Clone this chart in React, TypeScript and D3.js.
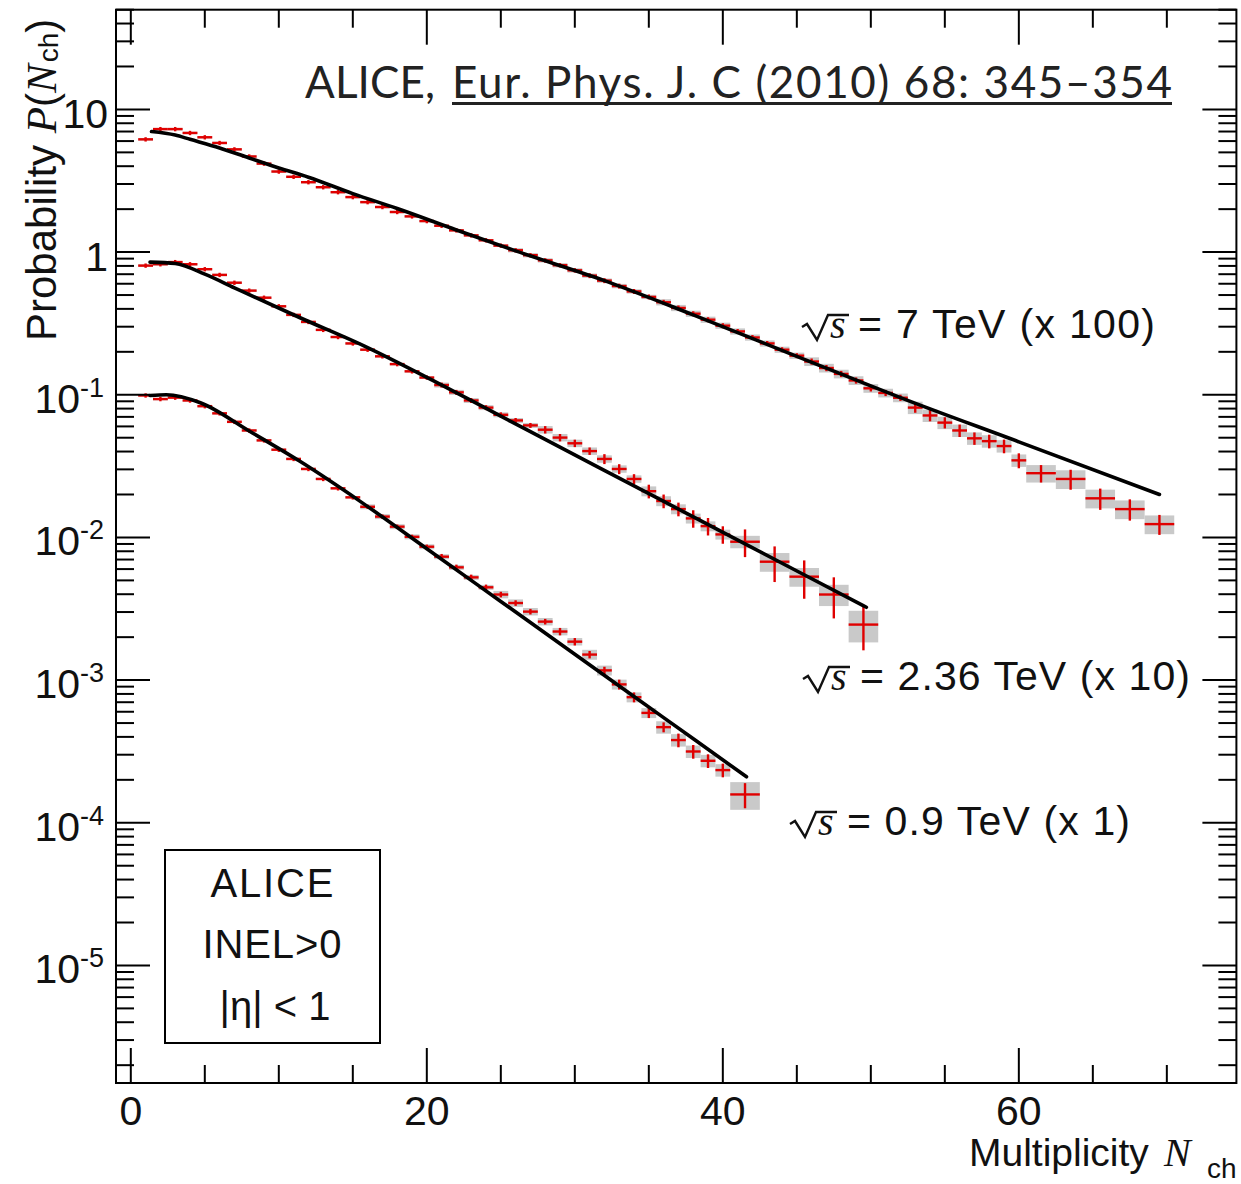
import React from 'react';
import * as d3 from 'd3';

// ---------- data (values as plotted, i.e. already scaled x100 / x10 / x1) ----------
const nch7 = [1, 2, 3, 4, 5, 6, 7, 8, 9, 10, 11, 12, 13, 14, 15, 16, 17, 18, 19, 20,
  21, 22, 23, 24, 25, 26, 27, 28, 29, 30, 31, 32, 33, 34, 35, 36, 37, 38, 39, 40,
  41, 42, 43, 44, 45, 46, 47, 48, 49, 50, 51, 52, 53, 54, 55, 56, 57, 58, 59, 60,
  61.5, 63.5, 65.5, 67.5, 69.5];
const p7 = [6.17, 7.28, 7.28, 6.84, 6.38, 5.82, 5.25, 4.68, 4.17, 3.67,
  3.37, 3.09, 2.85, 2.63, 2.43, 2.24, 2.07, 1.91, 1.78, 1.65,
  1.53, 1.42, 1.31, 1.21, 1.11, 1.03, 0.951, 0.875, 0.809, 0.745,
  0.684, 0.631, 0.578, 0.530, 0.485, 0.445, 0.406, 0.370, 0.336, 0.305,
  0.278, 0.252, 0.229, 0.207, 0.188, 0.171, 0.154, 0.140, 0.126, 0.111,
  0.103, 0.0953, 0.0813, 0.0716, 0.0638, 0.0562, 0.0495, 0.0473, 0.0437, 0.0347,
  0.0282, 0.0257, 0.0188, 0.0158, 0.0124];
const stat7 = [0.035, 0.035, 0.035, 0.035, 0.035, 0.035, 0.035, 0.035, 0.035, 0.035,
  0.035, 0.035, 0.035, 0.035, 0.035, 0.035, 0.035, 0.035, 0.035, 0.035,
  0.035, 0.035, 0.035, 0.035, 0.035, 0.035, 0.035, 0.035, 0.035, 0.035,
  0.04, 0.04, 0.04, 0.04, 0.04, 0.04, 0.04, 0.04, 0.04, 0.04,
  0.04, 0.04, 0.04, 0.04, 0.04, 0.05, 0.05, 0.05, 0.05, 0.05,
  0.05, 0.05, 0.08, 0.09, 0.09, 0.10, 0.10, 0.11, 0.11, 0.12,
  0.14, 0.16, 0.17, 0.17, 0.16];
const syst7 = [0.02, 0.02, 0.02, 0.02, 0.02, 0.02, 0.02, 0.02, 0.02, 0.02,
  0.02, 0.02, 0.02, 0.02, 0.02, 0.02, 0.02, 0.02, 0.02, 0.02,
  0.02, 0.02, 0.02, 0.02, 0.02, 0.035, 0.035, 0.035, 0.035, 0.035,
  0.035, 0.035, 0.035, 0.035, 0.035, 0.05, 0.05, 0.05, 0.05, 0.05,
  0.05, 0.05, 0.05, 0.05, 0.05, 0.07, 0.07, 0.07, 0.07, 0.07,
  0.07, 0.07, 0.10, 0.10, 0.10, 0.10, 0.10, 0.10, 0.10, 0.10,
  0.14, 0.15, 0.15, 0.15, 0.15];
const fit7N = [1.4, 3, 4, 6, 8, 10, 12, 15, 18, 22, 26, 32, 38, 45, 52, 60, 69.5];
const fit7P = [7.0, 6.61, 6.17, 5.37, 4.57, 3.89, 3.35, 2.57, 2.02, 1.43, 1.02, 0.631, 0.363, 0.186, 0.0955, 0.0468, 0.0200];

const nch236 = [1, 2, 3, 4, 5, 6, 7, 8, 9, 10, 11, 12, 13, 14, 15, 16, 17, 18, 19, 20,
  21, 22, 23, 24, 25, 26, 27, 28, 29, 30, 31, 32, 33, 34, 35, 36, 37, 38, 39, 40,
  41.5, 43.5, 45.5, 47.5, 49.5];
const p236 = [0.804, 0.822, 0.851, 0.822, 0.759, 0.692, 0.610, 0.537, 0.479, 0.417,
  0.363, 0.324, 0.285, 0.254, 0.229, 0.207, 0.186, 0.164, 0.146, 0.132,
  0.117, 0.104, 0.0912, 0.0813, 0.0724, 0.0661, 0.0610, 0.0569, 0.0501, 0.0457,
  0.0403, 0.0355, 0.0302, 0.0257, 0.0211, 0.0180, 0.0158, 0.0136, 0.0120, 0.0105,
  0.00933, 0.00676, 0.00531, 0.00398, 0.00245];
const stat236 = [0.035, 0.035, 0.035, 0.035, 0.035, 0.035, 0.035, 0.035, 0.035, 0.035,
  0.035, 0.035, 0.035, 0.035, 0.035, 0.035, 0.035, 0.035, 0.035, 0.035,
  0.04, 0.04, 0.04, 0.04, 0.04, 0.04, 0.04, 0.06, 0.06, 0.06,
  0.06, 0.08, 0.08, 0.08, 0.11, 0.11, 0.11, 0.14, 0.14, 0.14,
  0.22, 0.28, 0.30, 0.32, 0.34];
const syst236 = [0.02, 0.02, 0.02, 0.02, 0.02, 0.02, 0.02, 0.02, 0.02, 0.02,
  0.02, 0.02, 0.02, 0.02, 0.02, 0.02, 0.02, 0.02, 0.02, 0.02,
  0.04, 0.04, 0.04, 0.04, 0.04, 0.04, 0.04, 0.06, 0.06, 0.06,
  0.06, 0.06, 0.06, 0.06, 0.08, 0.08, 0.08, 0.08, 0.08, 0.08,
  0.10, 0.15, 0.15, 0.17, 0.25];
const fit236N = [1.3, 3, 5, 7, 11.4, 16, 20.4, 25, 31.7, 38.4, 45.2, 49.7];
const fit236P = [0.851, 0.832, 0.700, 0.562, 0.348, 0.214, 0.126, 0.0708, 0.0306, 0.01327, 0.00568, 0.00324];

const nch09 = [1, 2, 3, 4, 5, 6, 7, 8, 9, 10, 11, 12, 13, 14, 15, 16, 17, 18, 19, 20,
  21, 22, 23, 24, 25, 26, 27, 28, 29, 30, 31, 32, 33, 34, 35, 36, 37, 38, 39, 40,
  41.5];
const p09 = [0.0989, 0.0933, 0.0955, 0.0912, 0.0832, 0.0741, 0.0646, 0.0562, 0.0479, 0.0412,
  0.0355, 0.0302, 0.0257, 0.0221, 0.0191, 0.0164, 0.0140, 0.0119, 0.0101, 0.00861,
  0.00733, 0.00617, 0.00525, 0.00447, 0.00398, 0.00347, 0.00302, 0.00257, 0.00219, 0.00186,
  0.00151, 0.00117, 0.000933, 0.000759, 0.000589, 0.000468, 0.000380, 0.000316, 0.000272, 0.000234,
  0.000158];
const stat09 = [0.035, 0.035, 0.035, 0.035, 0.035, 0.035, 0.035, 0.035, 0.035, 0.035,
  0.035, 0.035, 0.035, 0.035, 0.035, 0.035, 0.035, 0.035, 0.035, 0.035,
  0.045, 0.045, 0.045, 0.045, 0.045, 0.045, 0.045, 0.045, 0.06, 0.06,
  0.06, 0.06, 0.08, 0.08, 0.08, 0.08, 0.11, 0.11, 0.11, 0.11,
  0.20];
const syst09 = [0.02, 0.02, 0.02, 0.02, 0.02, 0.02, 0.02, 0.02, 0.02, 0.02,
  0.02, 0.02, 0.02, 0.02, 0.02, 0.04, 0.04, 0.04, 0.04, 0.04,
  0.04, 0.04, 0.04, 0.04, 0.06, 0.06, 0.06, 0.06, 0.06, 0.06,
  0.08, 0.08, 0.08, 0.08, 0.08, 0.10, 0.10, 0.10, 0.10, 0.10,
  0.22];
const fit09N = [1.3, 2.4, 4.7, 8, 11.4, 15.5, 20, 25, 30, 36, 41.6];
const fit09P = [0.0989, 0.100, 0.0879, 0.0557, 0.0343, 0.0179, 0.00834, 0.00356, 0.00152, 0.000546, 0.00021];

const xTicks = [0, 5, 10, 15, 20, 25, 30, 35, 40, 45, 50, 55, 60, 65, 70];
const xMajorLabels = [0, 20, 40, 60];

// ---------- layout ----------
const W = 1241;
const H = 1184;
const F = { left: 116, right: 1236.4, top: 9.7, bottom: 1083 };
const SANS = "'Liberation Sans', Arial, Helvetica, sans-serif";
const SERIF = "'Liberation Serif', 'Times New Roman', serif";
const RED = '#e00000';
const GREY = '#c9c9c9';

const x = d3.scaleLinear().domain([-1, 74.7]).range([F.left, F.right]);
const y = d3.scaleLog().domain([1.5e-6, 50]).range([F.bottom, F.top]);

const series = [
  { n: nch7, p: p7, stat: stat7, syst: syst7, fn: fit7N, fp: fit7P },
  { n: nch236, p: p236, stat: stat236, syst: syst236, fn: fit236N, fp: fit236P },
  { n: nch09, p: p09, stat: stat09, syst: syst09, fn: fit09N, fp: fit09P },
];

const halfW = (n: number) => (Number.isInteger(n) ? 0.5 : 1);
const isDecade = (t: number) => Math.abs(Math.log10(t) - Math.round(Math.log10(t))) < 1e-9;

const fitLine = d3
  .line<[number, number]>()
  .x((d) => x(d[0]))
  .y((d) => y(d[1]))
  .curve(d3.curveMonotoneX);

function SqrtS({ x0, base }: { x0: number; base: number }) {
  const d = `M${x0},${base - 11} L${x0 + 5},${base - 14} L${x0 + 15},${base + 2} L${x0 + 26},${base - 23} L${x0 + 47},${base - 23}`;
  return (
    <g>
      <path d={d} fill="none" stroke="#111" strokeWidth={2.4} strokeLinejoin="miter" />
      <text x={x0 + 28} y={base} fontFamily={SERIF} fontStyle="italic" fontSize={40} fill="#111">s</text>
    </g>
  );
}

export default function App() {
  const yTicks = y.ticks().filter((t) => t >= 1.5e-6 && t <= 50);
  const majorLen = 34;
  const minorLen = 18;

  return (
    <svg
      width={W}
      height={H}
      viewBox={`0 0 ${W} ${H}`}
      style={{ position: 'absolute', left: 0, top: 0, background: '#fff' }}
    >
      <rect x={0} y={0} width={W} height={H} fill="#fff" />

      {/* systematic boxes */}
      <g fill={GREY}>
        {series.map((s, si) =>
          s.n.map((n, i) => {
            const hw = halfW(n);
            const v = s.p[i];
            const y1 = y(v * (1 + s.syst[i]));
            const y2 = y(v * (1 - s.syst[i]));
            return (
              <rect key={`b${si}-${i}`} x={x(n - hw)} y={y1} width={x(n + hw) - x(n - hw)} height={y2 - y1} />
            );
          })
        )}
      </g>

      {/* data markers */}
      <g stroke={RED} strokeWidth={2.4}>
        {series.map((s, si) =>
          s.n.map((n, i) => {
            const hw = halfW(n);
            const v = s.p[i];
            return (
              <g key={`m${si}-${i}`}>
                <line x1={x(n - hw)} x2={x(n + hw)} y1={y(v)} y2={y(v)} />
                <line x1={x(n)} x2={x(n)} y1={y(v * (1 + s.stat[i]))} y2={y(v * (1 - s.stat[i]))} />
              </g>
            );
          })
        )}
      </g>

      {/* fits */}
      <g fill="none" stroke="#000" strokeWidth={3.6} strokeLinecap="round">
        {series.map((s, si) => (
          <path key={`f${si}`} d={fitLine(s.fn.map((n, i) => [n, s.fp[i]] as [number, number])) || ''} />
        ))}
      </g>

      {/* frame */}
      <rect x={F.left} y={F.top} width={F.right - F.left} height={F.bottom - F.top} fill="none" stroke="#000" strokeWidth={2} />

      {/* x ticks */}
      <g stroke="#000" strokeWidth={2}>
        {xTicks.map((t) => {
          const len = t % 20 === 0 ? majorLen + 1 : minorLen;
          return (
            <g key={`xt${t}`}>
              <line x1={x(t)} x2={x(t)} y1={F.bottom} y2={F.bottom - len} />
              <line x1={x(t)} x2={x(t)} y1={F.top} y2={F.top + len} />
            </g>
          );
        })}
      </g>
      <g fontFamily={SANS} fontSize={41} textAnchor="middle" fill="#111">
        {xMajorLabels.map((t) => (
          <text key={`xl${t}`} x={x(t)} y={1125}>{t}</text>
        ))}
      </g>

      {/* y ticks */}
      <g stroke="#000" strokeWidth={2}>
        {yTicks.map((t, i) => {
          const len = isDecade(t) ? majorLen : minorLen;
          return (
            <g key={`yt${i}`}>
              <line x1={F.left} x2={F.left + len} y1={y(t)} y2={y(t)} />
              <line x1={F.right} x2={F.right - len} y1={y(t)} y2={y(t)} />
            </g>
          );
        })}
      </g>
      <g fontFamily={SANS} fill="#111" textAnchor="end">
        {yTicks.filter(isDecade).map((t, i) => {
          const k = Math.round(Math.log10(t));
          const ty = y(t);
          if (k === 1 || k === 0) {
            return (
              <text key={`yl${i}`} x={108} y={ty + 19} fontSize={41}>{k === 1 ? '10' : '1'}</text>
            );
          }
          return (
            <text key={`yl${i}`} x={104} y={ty + 18} fontSize={41}>
              10<tspan dy={-16} fontSize={27}>{`-${-k}`}</tspan>
            </text>
          );
        })}
      </g>

      {/* axis titles */}
      <g fill="#111">
        <text x={969} y={1166} fontFamily={SANS} fontSize={39}>Multiplicity</text>
        <text x={1164} y={1166} fontFamily={SERIF} fontStyle="italic" fontSize={40}>N</text>
        <text x={1207} y={1178} fontFamily={SANS} fontSize={28}>ch</text>
      </g>
      <g transform="translate(56,341) rotate(-90)">
        <text x={0} y={0} fontFamily={SANS} fontSize={42} fill="#111">
          Probability{' '}
          <tspan fontFamily={SERIF} fontStyle="italic" fontSize={43}>P</tspan>
          <tspan>(</tspan>
          <tspan fontFamily={SERIF} fontStyle="italic" fontSize={43}>N</tspan>
          <tspan dx={2} dy={2} fontSize={28}>ch</tspan>
          <tspan dy={-2}>)</tspan>
        </text>
      </g>

      {/* energy labels */}
      <SqrtS x0={802} base={338} />
      <text x={858} y={338} fontFamily={SANS} fontSize={41} fill="#111" textLength={297}>= 7 TeV (x 100)</text>
      <SqrtS x0={803} base={690} />
      <text x={860} y={690} fontFamily={SANS} fontSize={41} fill="#111" textLength={330}>= 2.36 TeV (x 10)</text>
      <SqrtS x0={790} base={835} />
      <text x={847} y={835} fontFamily={SANS} fontSize={41} fill="#111" textLength={283}>= 0.9 TeV (x 1)</text>

      {/* ALICE box */}
      <rect x={165} y={850} width={215} height={193} fill="#fff" stroke="#000" strokeWidth={2} />
      <g fontFamily={SANS} fontSize={40} fill="#111" textAnchor="middle">
        <text x={272} y={897} textLength={123}>ALICE</text>
        <text x={272} y={958} textLength={139}>INEL&gt;0</text>
        <text x={275} y={1020}>|η| &lt; 1</text>
      </g>

      {/* reference title */}
      <g fontFamily="Lato, 'Open Sans', sans-serif" fontSize={44} fill="#222">
        <text x={305} y={98} textLength={130}>ALICE,</text>
        <text x={452} y={98} textLength={720}>Eur. Phys. J. C (2010) 68: 345–354</text>
      </g>
      <line x1={452} x2={1172} y1={103.5} y2={103.5} stroke="#222" strokeWidth={3} />
    </svg>
  );
}
